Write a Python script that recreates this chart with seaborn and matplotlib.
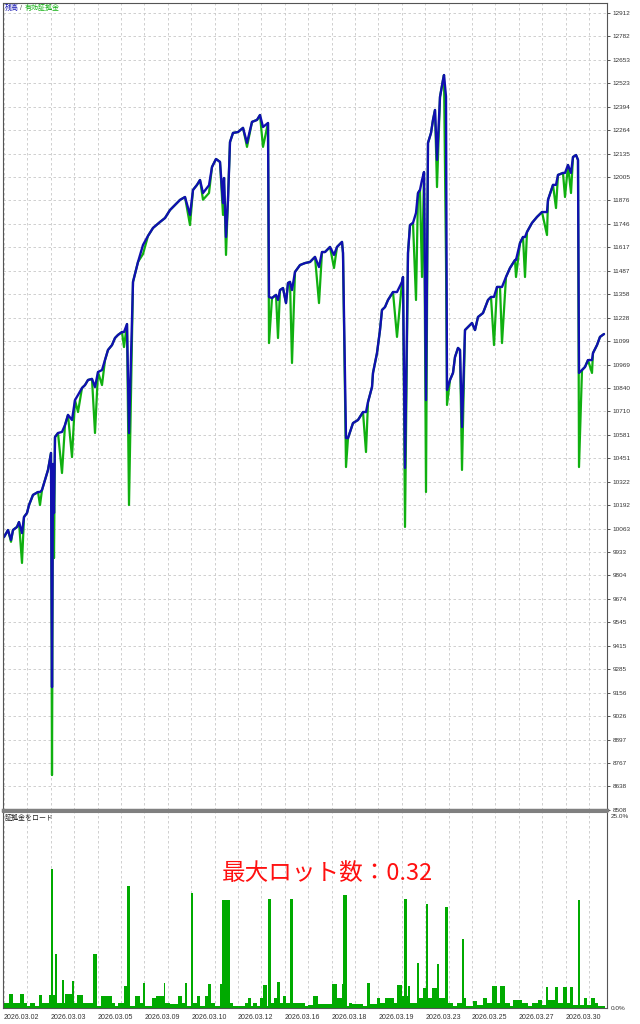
import numpy as np
import pandas as pd
import matplotlib
matplotlib.use("Agg")
import matplotlib.pyplot as plt
import seaborn as sns

# 残高 / 有効証拠金 (deal index, balance, equity)
deal = [0, 4, 7, 9, 13, 15, 18, 20, 23, 25, 29, 34, 36, 38, 41, 44, 47, 48, 49, 50,
        51, 54, 58, 61, 64, 68, 71, 74, 78, 81, 84, 88, 91, 94, 98, 101, 104, 108, 111, 114,
        118, 120, 123, 125, 129, 134, 139, 144, 149, 156, 161, 166, 171, 176, 181, 186, 189, 193, 196, 199,
        205, 208, 212, 216, 219, 220, 222, 224, 226, 229, 234, 239, 243, 248, 253, 256, 259, 264, 265, 268,
        272, 274, 276, 279, 282, 284, 286, 288, 291, 296, 301, 306, 311, 315, 318, 321, 326, 330, 333, 338,
        339, 342, 344, 349, 354, 359, 362, 364, 368, 369, 373, 376, 378, 381, 384, 389, 393, 398, 399, 401,
        404, 406, 409, 412, 414, 416, 418, 420, 422, 424, 427, 429, 431, 433, 436, 439, 440, 442, 443, 446,
        449, 451, 454, 456, 458, 461, 464, 468, 471, 474, 479, 484, 487, 490, 493, 496, 498, 502, 506, 511,
        512, 516, 519, 521, 523, 528, 533, 538, 543, 544, 549, 552, 554, 559, 561, 564, 567, 569, 572, 574,
        575, 578, 581, 584, 588, 589, 593, 596, 600]
balance = [10016, 10055, 10000, 10055, 10072, 10099, 10038, 10127, 10149, 10193, 10249, 10265, 10265, 10276, 10331, 10387, 10481, 9187, 10420, 10149,
           10569, 10591, 10597, 10635, 10691, 10663, 10773, 10801, 10840, 10856, 10884, 10890, 10845, 10928, 10939, 10994, 11050, 11077, 11116, 11133,
           11149, 11149, 11193, 10591, 11426, 11536, 11630, 11680, 11724, 11757, 11779, 11823, 11851, 11879, 11895, 11796, 11934, 11962, 11989, 11917,
           11960, 12061, 12105, 12089, 11862, 12000, 11674, 11879, 12199, 12249, 12254, 12277, 12194, 12310, 12321, 12348, 12282, 12304, 11343, 11337,
           11354, 11326, 11381, 11392, 11309, 11420, 11426, 11381, 11481, 11519, 11530, 11536, 11564, 11508, 11591, 11591, 11619, 11575, 11619, 11647,
           11586, 10563, 10563, 10646, 10663, 10707, 10707, 10762, 10845, 10923, 11033, 11160, 11271, 11287, 11326, 11370, 11370, 11426, 11453, 10398,
           11586, 11740, 11752, 11807, 11917, 11934, 11989, 12033, 10773, 12194, 12249, 12321, 12376, 12100, 12448, 12542, 12569, 12450, 10829, 10884,
           10923, 11011, 11061, 11050, 10624, 11160, 11177, 11199, 11160, 11232, 11254, 11326, 11343, 11343, 11398, 11398, 11398, 11453, 11503, 11547,
           11547, 11641, 11674, 11674, 11702, 11752, 11785, 11812, 11812, 11879, 11962, 11962, 12017, 12028, 12028, 12072, 12028, 12116, 12127, 12100,
           10923, 10939, 10956, 10994, 10994, 11033, 11077, 11122, 11138]
equity = [10016, 10055, 9990, 10055, 10072, 10099, 9873, 10127, 10149, 10193, 10249, 10265, 10193, 10276, 10331, 10387, 10481, 8701, 10420, 9900,
          10569, 10591, 10370, 10635, 10691, 10458, 10773, 10707, 10840, 10856, 10884, 10890, 10591, 10928, 10856, 10994, 11050, 11077, 11116, 11133,
          11149, 11066, 11193, 10193, 11426, 11536, 11580, 11680, 11724, 11757, 11779, 11823, 11851, 11879, 11895, 11740, 11934, 11962, 11989, 11880,
          11917, 12061, 12105, 12089, 11796, 12000, 11575, 11879, 12199, 12249, 12254, 12277, 12172, 12310, 12321, 12348, 12172, 12304, 11088, 11337,
          11354, 11116, 11381, 11392, 11309, 11420, 11426, 10978, 11481, 11519, 11530, 11536, 11564, 11309, 11591, 11591, 11619, 11503, 11619, 11647,
          11586, 10403, 10563, 10646, 10663, 10707, 10486, 10762, 10845, 10923, 11033, 11160, 11271, 11287, 11326, 11370, 11122, 11426, 11453, 10072,
          11586, 11740, 11752, 11326, 11917, 11934, 11453, 12033, 10265, 12194, 12249, 12321, 12376, 11950, 12448, 12542, 12569, 11547, 10746, 10884,
          10923, 11011, 11061, 11050, 10387, 11160, 11177, 11199, 11160, 11232, 11254, 11326, 11343, 11077, 11398, 11398, 11088, 11453, 11503, 11547,
          11453, 11641, 11674, 11453, 11702, 11752, 11785, 11812, 11685, 11879, 11962, 11834, 12017, 12028, 11895, 12072, 11917, 12116, 12127, 12100,
          10403, 10939, 10956, 10994, 10923, 11033, 11077, 11122, 11138]

# 証拠金をロード (segment start deal, load %)
margin_x = [0, 5, 9, 16, 20, 23, 26, 31, 35, 38, 45, 47, 49, 51, 53, 58, 60, 61, 68, 70,
            73, 79, 89, 93, 97, 103, 108, 111, 114, 120, 123, 126, 131, 136, 139, 141, 148, 152, 160, 161,
            166, 174, 178, 181, 183, 187, 189, 193, 196, 201, 204, 207, 211, 216, 218, 226, 229, 241, 244, 247,
            249, 253, 256, 259, 263, 264, 267, 270, 273, 276, 279, 282, 286, 289, 301, 304, 309, 314, 328, 333,
            338, 339, 343, 345, 348, 359, 363, 366, 373, 376, 381, 390, 393, 398, 400, 403, 404, 406, 413, 415,
            419, 422, 424, 428, 433, 435, 441, 444, 449, 453, 458, 460, 462, 469, 473, 479, 483, 488, 493, 496,
            501, 506, 509, 518, 524, 528, 534, 538, 542, 544, 551, 554, 559, 563, 566, 569, 574, 576, 580, 583,
            587, 591, 594, 601]
margin_pct = [0.7, 1.8, 0.7, 1.8, 0.7, 0.2, 0.7, 0.2, 1.7, 0.7, 1.65, 18.1, 1.65, 7.0, 0.7, 3.65, 0.7, 1.8, 3.5, 0.7,
              1.65, 0.7, 7.0, 0.2, 1.5, 1.5, 0.7, 0.2, 0.7, 2.9, 15.9, 0.2, 1.5, 0.7, 3.2, 0.2, 1.35, 1.5, 3.2, 0.7,
              0.5, 1.5, 0.7, 3.2, 0.2, 15.0, 0.7, 1.5, 0.2, 1.5, 3.1, 0.7, 0.2, 3.1, 14.0, 0.7, 0.2, 0.7, 1.35, 0.2,
              0.6, 0.2, 1.35, 3.05, 0.2, 14.2, 0.7, 1.35, 3.35, 0.7, 1.5, 0.7, 14.2, 0.7, 0.2, 0.4, 1.5, 0.5, 3.15, 1.35,
              3.15, 14.7, 0.2, 0.7, 0.5, 0.2, 3.2, 0.5, 1.35, 0.6, 1.35, 0.6, 3.05, 1.5, 14.2, 1.5, 2.9, 0.6, 5.8, 1.35,
              2.6, 13.5, 1.35, 2.6, 5.7, 1.35, 13.1, 0.6, 0.2, 0.7, 9.0, 1.35, 0.2, 0.9, 0.4, 1.35, 0.6, 2.9, 0.6, 2.9,
              0.6, 0.2, 1.1, 0.6, 0.2, 0.6, 1.1, 0.4, 2.7, 1.1, 2.7, 0.6, 2.7, 0.6, 2.7, 0.4, 14.0, 0.4, 1.35, 0.4,
              1.35, 0.6, 0.2, 0.0]

ytick_labels = ['8508', '8638', '8767', '8897', '9026', '9156', '9285', '9415', '9545', '9674', '9804',
                '9933', '10063', '10192', '10322', '10451', '10581', '10710', '10840', '10969', '11099',
                '11228', '11358', '11487', '11617', '11746', '11876', '12005', '12135', '12264', '12394',
                '12523', '12653', '12782', '12912']
date_labels = ['2026.03.02', '2026.03.03', '2026.03.05', '2026.03.09', '2026.03.10', '2026.03.12',
               '2026.03.16', '2026.03.18', '2026.03.19', '2026.03.23', '2026.03.25', '2026.03.27',
               '2026.03.30']
max_lot = 0.32

df = pd.DataFrame({'deal': deal, 'balance': balance, 'equity': equity})

sns.set_style("white")
plt.rcParams['font.family'] = ['Liberation Sans', 'Noto Sans CJK JP', 'DejaVu Sans']

BLUE = '#1010b0'
GREEN = '#10b010'
GRID = '#c8c8c8'
step = 23.4  # grid spacing in deals

fig = plt.figure(figsize=(6.4, 10.24), dpi=100)
ax = fig.add_axes([3/640, 1-810/1024, 604/640, 807/1024])
ax2 = fig.add_axes([3/640, 1-1008/1024, 604/640, 196/1024])

# upper chart
sns.lineplot(data=df, x='deal', y='equity', ax=ax, color=GREEN, lw=1.6,
             estimator=None, sort=False)
sns.lineplot(data=df, x='deal', y='balance', ax=ax, color=BLUE, lw=1.7,
             estimator=None, sort=False)
ax.set_xlim(-1, 603)
ax.set_ylim(8508, 12967)
yt = [float(v) for v in ytick_labels]
ax.set_yticks(yt)
ax.set_yticklabels(ytick_labels)
ax.yaxis.tick_right()
ax.tick_params(axis='y', labelsize=4.6, length=2.5, width=0.6, pad=1.5,
               colors='#333333', direction='out')
ax.set_xticks(np.arange(0, 603, step))
ax.tick_params(axis='x', length=0, labelbottom=False)
ax.grid(True, color=GRID, ls=(0, (3, 3)), lw=0.6)
ax.set_xlabel('')
ax.set_ylabel('')
for s in ['left', 'right', 'top']:
    ax.spines[s].set_color('#555555')
    ax.spines[s].set_linewidth(0.8)
ax.spines['bottom'].set_color('#808080')
ax.spines['bottom'].set_linewidth(2.5)

fig.text(5/640, 1-8/1024, '残高', color=BLUE, fontsize=5, va='center',
         family=['Noto Sans CJK JP'])
fig.text(20/640, 1-8/1024, '/', color='#555555', fontsize=5, va='center')
fig.text(25/640, 1-8/1024, '有効証拠金', color=GREEN, fontsize=5, va='center',
         family=['Noto Sans CJK JP'])

# lower chart: margin load
ax2.fill_between(margin_x, margin_pct, step='post', color='#00aa00', lw=0)
ax2.set_xlim(-1, 603)
ax2.set_ylim(0, 25.5)
ax2.set_yticks([0, 25])
ax2.set_yticklabels(['0.0%', '25.0%'])
ax2.yaxis.tick_right()
ax2.tick_params(axis='y', labelsize=4.6, length=0, pad=3, colors='#333333')
major = np.arange(0, 603, 2 * step)[:len(date_labels)]
ax2.set_xticks(major)
ax2.set_xticklabels(date_labels, ha='left')
ax2.set_xticks(np.arange(step, 603, 2 * step), minor=True)
ax2.tick_params(axis='x', which='both', labelsize=5, length=2, width=0.5,
                pad=2, colors='#333333')
ax2.grid(True, axis='x', which='both', color=GRID, ls=(0, (3, 3)), lw=0.6)
for s in ['left', 'right', 'bottom']:
    ax2.spines[s].set_color('#555555')
    ax2.spines[s].set_linewidth(0.8)
ax2.spines['top'].set_color('#808080')
ax2.spines['top'].set_linewidth(1.5)

fig.text(5/640, 1-818/1024, '証拠金をロード', color='#222222', fontsize=5, va='center',
         family=['Noto Sans CJK JP'])
fig.text(327/640, 1-873/1024, f'最大ロット数：{max_lot}', color='#ff1010', fontsize=17,
         ha='center', va='center', family=['Noto Sans CJK JP', 'DejaVu Sans'])

fig.savefig('out.png', dpi=100)
